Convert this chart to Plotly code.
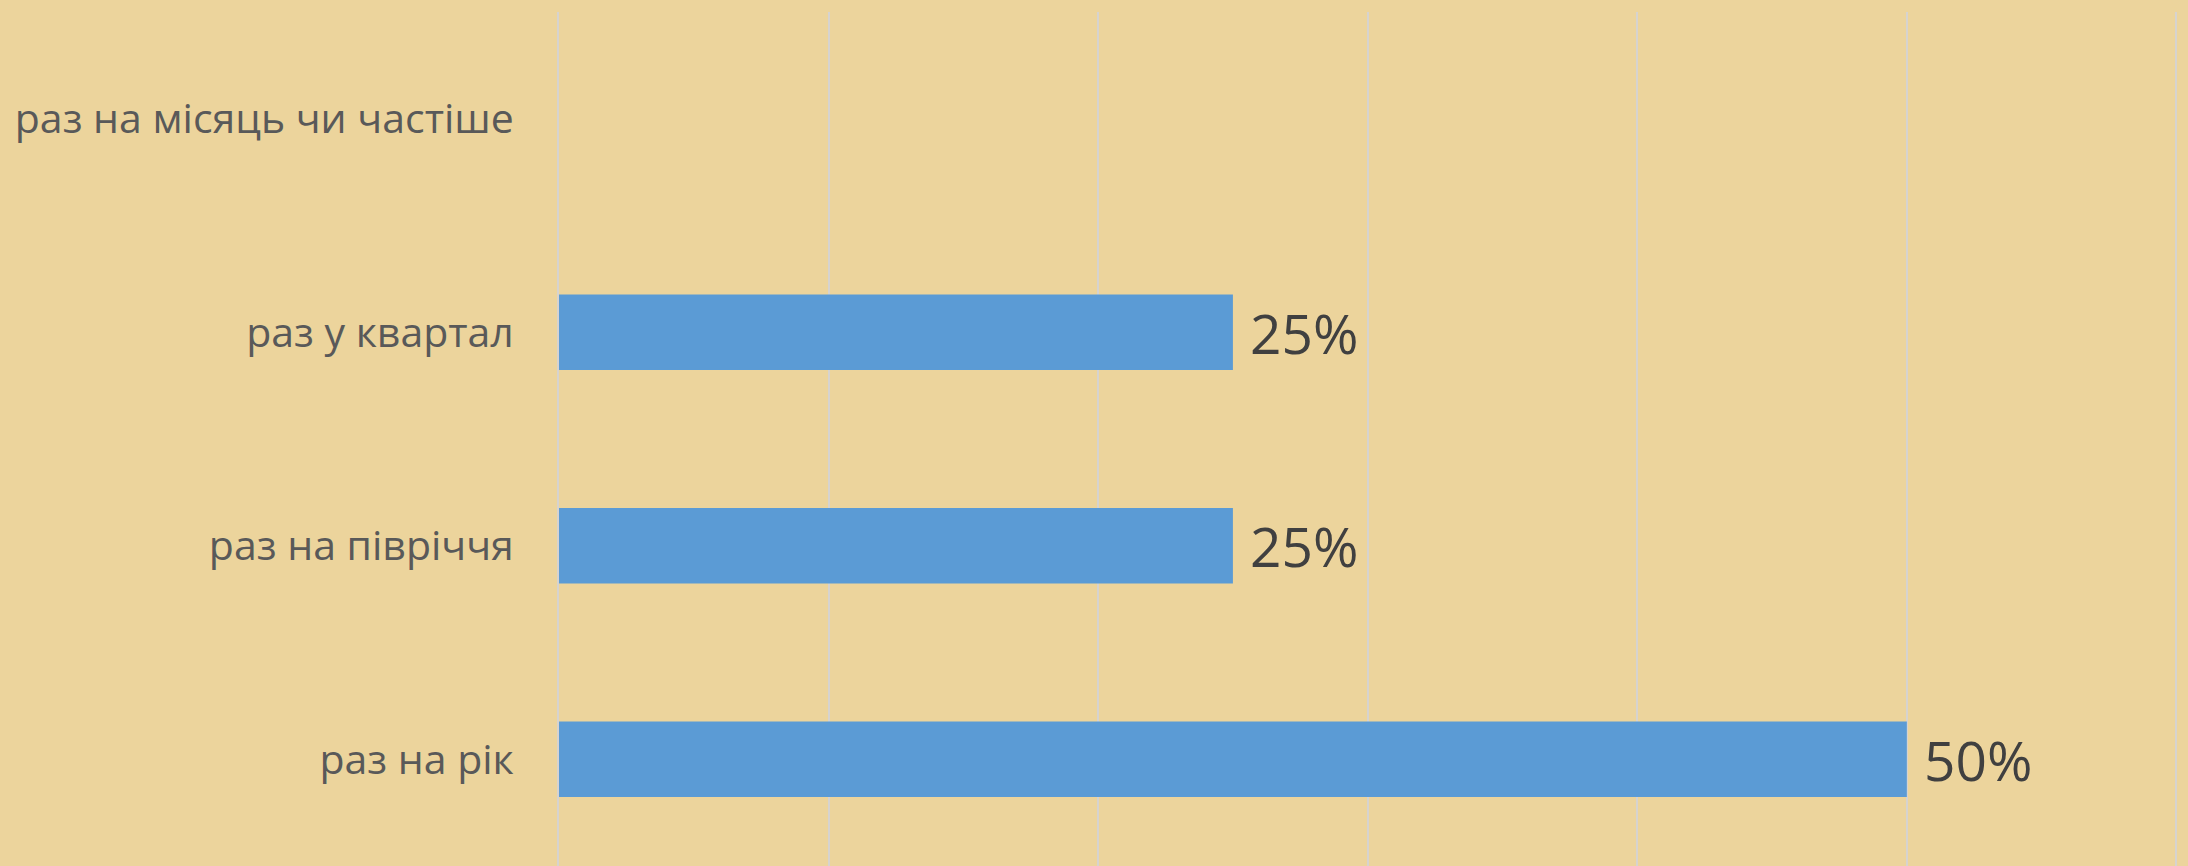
import plotly.graph_objects as go

categories = ["раз на рік", "раз на півріччя", "раз у квартал", "раз на місяць чи частіше"]
values = [0.50, 0.25, 0.25, None]
labels = ["50%", "25%", "25%", ""]
tick_vals = [0, 0.1, 0.2, 0.3, 0.4, 0.5, 0.6]

W, H = 2188, 866
BG = "#ECD49C"
fig = go.Figure()
fig.add_trace(go.Bar(
    y=categories, x=[v if v is not None else 0 for v in values],
    orientation="h", marker=dict(color="#5B9BD5", line=dict(width=0)),
    width=0.354, hoverinfo="skip",
))
for c, v, t in zip(categories, values, labels):
    if v is None:
        continue
    fig.add_annotation(x=v, y=c, text=t, showarrow=False, xanchor="left", yanchor="middle",
                       xshift=15, font=dict(family="Open Sans", size=55, color="#404040"))

fig.update_layout(
    width=W, height=H,
    margin=dict(l=559, r=0, t=12, b=0),
    paper_bgcolor=BG, plot_bgcolor=BG,
    showlegend=False,
    xaxis=dict(range=[0, 0.6043], tickvals=tick_vals, showticklabels=False,
               showgrid=True, gridcolor="#D6D3CF", gridwidth=2, zeroline=False,
               showline=False, fixedrange=True),
    yaxis=dict(categoryorder="array", categoryarray=categories,
               tickfont=dict(family="Open Sans", size=41, color="#595959"),
               ticks="", ticklabelstandoff=35, showgrid=False, showline=True,
               linecolor="#D6D3CF", linewidth=2, fixedrange=True),
)
fig.write_html("out.html", config={"displayModeBar": False},
               post_script="document.body.style.margin='0';document.body.style.background='%s';" % BG)
